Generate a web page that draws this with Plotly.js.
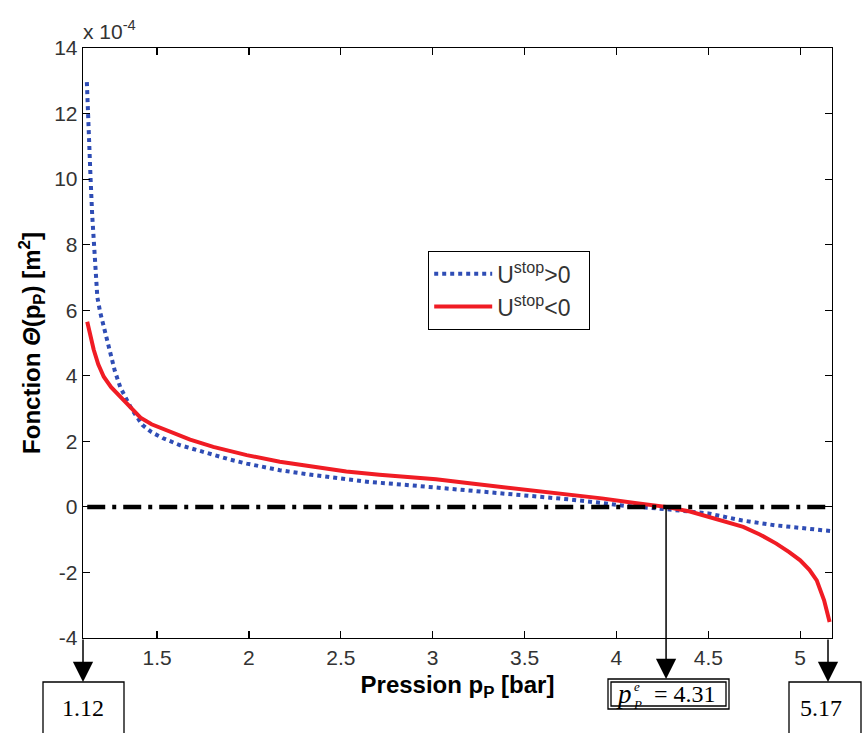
<!DOCTYPE html>
<html>
<head>
<meta charset="utf-8">
<script src="https://cdn.plot.ly/plotly-3.0.1.min.js"></script>
<style>html,body{margin:0;padding:0;background:#fff;}#chart{width:863px;height:733px;}</style>
</head>
<body>
<div id="chart"></div>
<script>
// Pressure p_P [bar] and function values (x 1e-4 m^2)
const pBlue = [1.118,1.123,1.13,1.138,1.147,1.156,1.165,1.175,1.19,1.202,1.225,1.247,1.27,1.30,1.33,1.36,1.39,1.42,1.47,1.53,1.626,1.72,1.806,1.9,1.988,2.168,2.349,2.53,2.656,2.837,3.018,3.2,3.38,3.56,3.74,3.92,4.05,4.27,4.5,4.68,4.86,5.0,5.13,5.17];
const vBlue = [12.96,12.0,11.0,10.05,8.9,7.92,7.1,6.4,5.95,5.68,5.05,4.57,4.15,3.65,3.3,3.0,2.75,2.5,2.28,2.1,1.88,1.72,1.58,1.44,1.32,1.12,0.97,0.83,0.76,0.68,0.59,0.48,0.41,0.33,0.23,0.12,0.03,-0.07,-0.2,-0.41,-0.56,-0.64,-0.71,-0.74];
const pRed = [1.12,1.14,1.155,1.18,1.21,1.25,1.30,1.36,1.41,1.47,1.53,1.6,1.68,1.806,1.9,1.988,2.168,2.349,2.53,2.71,2.837,3.018,3.2,3.38,3.56,3.74,3.92,4.1,4.27,4.4,4.51,4.6,4.69,4.78,4.87,4.94,5.0,5.05,5.09,5.13,5.16];
const vRed = [5.65,5.15,4.8,4.35,3.97,3.65,3.36,3.02,2.72,2.52,2.38,2.22,2.05,1.83,1.7,1.58,1.38,1.22,1.08,0.98,0.92,0.84,0.72,0.61,0.51,0.39,0.26,0.12,0,-0.14,-0.31,-0.45,-0.61,-0.84,-1.12,-1.38,-1.63,-1.92,-2.24,-2.85,-3.51];
const pZero = [1.12, 5.17];
const vZero = [0, 0];
const pCross = 4.27;
const xTicks = [1.5,2,2.5,3,3.5,4,4.5,5];
const yTicks = [-4,-2,0,2,4,6,8,10,12,14];
const labelBlue = "U<sup>stop</sup>&gt;0&nbsp;&nbsp;";
const labelRed = "U<sup>stop</sup>&lt;0&nbsp;&nbsp;";
const boxLeft = "1.12", boxMid = "= 4.31", boxRight = "5.17";

const W = 863, H = 733;
const M = {l:83, r:31, t:48, b:95};
const PW = W - M.l - M.r, PH = H - M.t - M.b;
const px = x => (x - M.l) / PW;
const py = y => (H - M.b - y) / PH;

const traces = [
  {x: pBlue, y: vBlue, mode:'lines', name: labelBlue,
   line:{color:'#2f4db5', width:4, dash:'4px,4px'}},
  {x: pRed, y: vRed, mode:'lines', name: labelRed,
   line:{color:'#f01c24', width:4}},
  {x: pZero, y: vZero, mode:'lines', showlegend:false,
   line:{color:'#000', width:4.5, dash:'18px,7px,4px,7px'}}
];

const serif = 'Liberation Serif, Times New Roman, serif';
const sans = 'Liberation Sans, Arial, sans-serif';
const shapes = [];
function rect(x0,y0,x1,y1,w){shapes.push({type:'rect',xref:'paper',yref:'paper',x0:px(x0),x1:px(x1),y0:py(y0),y1:py(y1),line:{color:'#000',width:w||1.3},fillcolor:'rgba(0,0,0,0)',layer:'above'});}
rect(43,682,124,745);
rect(608,679,729,709);
rect(611,682,726,706);
rect(789,682,861,745);

const arrow = {text:'', showarrow:true, arrowhead:2, arrowsize:2.7, arrowwidth:1.5, arrowcolor:'#000', ax:0};
function txt(x, y, t, size, extra){return Object.assign({xref:'paper', yref:'paper', x:px(x), y:py(y), xanchor:'center', yanchor:'middle', text:t, showarrow:false, font:{family:serif, size:size, color:'#000'}}, extra||{});}
const annotations = [
  Object.assign({}, arrow, {xref:'paper', yref:'paper', x:px(83), y:py(682), ay:-44}),
  Object.assign({}, arrow, {xref:'x', yref:'paper', x:pCross, y:py(679), ay:-172}),
  Object.assign({}, arrow, {xref:'paper', yref:'paper', x:px(828), y:py(682), ay:-44}),
  txt(83, 708, boxLeft, 24),
  txt(821, 708, boxRight, 24),
  txt(624, 694, '<i>p</i>', 27),
  txt(637, 686, '<i>e</i>', 13),
  txt(637, 704, '<i>P</i>', 13),
  txt(685, 694, boxMid, 24),
  {xref:'paper', yref:'paper', x:px(81), y:py(30), xanchor:'left', yanchor:'middle', text:'x 10<sup>-4</sup>', showarrow:false, font:{family:sans, size:21, color:'#333'}}
];

const axisCommon = {showline:true, linecolor:'#000', linewidth:1.3, mirror:'ticks', ticks:'inside', ticklen:7, tickcolor:'#000', tickwidth:1.2, showgrid:false, zeroline:false,
  tickfont:{family:sans, size:21, color:'#333'}};

const layout = {
  width:W, height:H, margin:M, paper_bgcolor:'#fff', plot_bgcolor:'#fff',
  font:{family:sans},
  xaxis: Object.assign({}, axisCommon, {range:[1.097,5.173], tickvals:xTicks, ticktext:xTicks.map(String),
    title:{text:'<b>Pression p<sub>P</sub> [bar]</b>', font:{size:24, color:'#000'}, standoff:8}}),
  yaxis: Object.assign({}, axisCommon, {range:[-4,14], tickvals:yTicks, ticktext:yTicks.map(String),
    title:{text:'<b>Fonction <i>Θ</i>(p<sub>P</sub>) [m<sup>2</sup>]</b>', font:{size:24, color:'#000'}, standoff:6}}),
  legend:{x:px(428), y:py(251), xanchor:'left', yanchor:'top', bgcolor:'#fff', bordercolor:'#000', borderwidth:1.2,
    itemwidth:58, font:{family:sans, size:23, color:'#333'}, tracegroupgap:0},
  shapes: shapes, annotations: annotations, showlegend:true
};

Plotly.newPlot('chart', traces, layout, {displayModeBar:false, staticPlot:true});
</script>
</body>
</html>
